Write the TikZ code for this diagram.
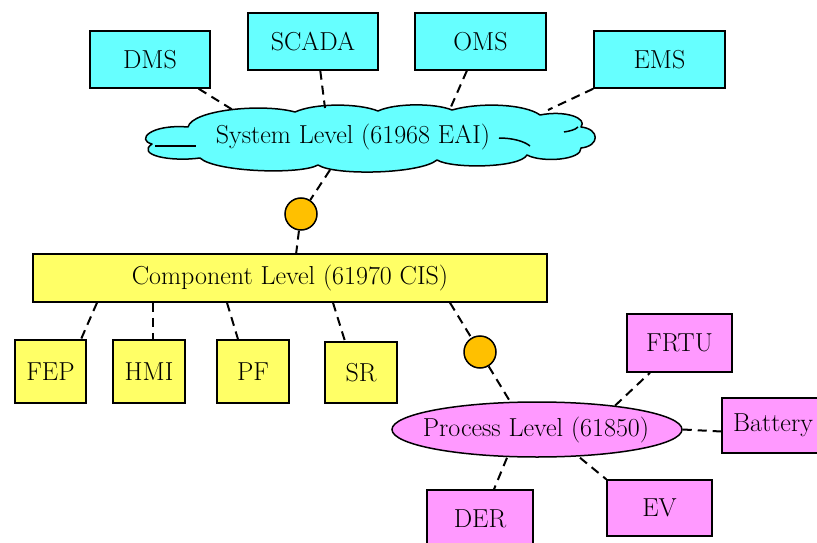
\documentclass[tikz,border=0pt]{standalone}
\usepackage{fontspec}
\usetikzlibrary{shapes.geometric}
\definecolor{cy}{HTML}{66FFFF}
\definecolor{ye}{HTML}{FFFF66}
\definecolor{mg}{HTML}{FF99FF}
\definecolor{og}{HTML}{FFC000}
\begin{document}
\begin{tikzpicture}[x=1pt,y=-1pt,
  txt/.style={font=\fontsize{26}{30}\selectfont},
  box/.style={draw=black, line width=1.5pt, rectangle, inner sep=0pt, txt},
  sysbox/.style={box, fill=cy},
  compbox/.style={box, fill=ye},
  procbox/.style={box, fill=mg},
  outline/.style={draw=black, line width=1.5pt, line join=round},
  conn/.style={line width=2pt, dash pattern=on 9pt off 6pt},
  dot/.style={circle, draw=black, fill=og, line width=1.5pt, minimum size=32pt, inner sep=0pt}]
\useasboundingbox (0,0) rectangle (817,543);
% system level
\node[sysbox, minimum width=120pt, minimum height=57pt] (dms) at (150,59.5) {DMS};
\node[sysbox, minimum width=130pt, minimum height=57pt] (scada) at (313,41.5) {SCADA};
\node[sysbox, minimum width=131pt, minimum height=57pt] (oms) at (480.5,41.5) {OMS};
\node[sysbox, minimum width=131pt, minimum height=57pt] (ems) at (659.5,59.5) {EMS};
% cloud
\path[outline, fill=cy] (152,144)
  .. controls (136,140) and (150,124) .. (188,127)
  .. controls (192,110) and (262,103) .. (295,112)
  .. controls (315,103) and (358,103) .. (378,111)
  .. controls (395,103) and (435,103) .. (452,110)
  .. controls (480,102) and (525,104) .. (540,115)
  .. controls (565,110) and (588,118) .. (581,127)
  .. controls (600,129) and (600,146) .. (581,148)
  .. controls (582,160) and (542,163) .. (527,155)
  .. controls (520,168) and (452,169) .. (437,160)
  .. controls (420,174) and (335,176) .. (318,165)
  .. controls (300,175) and (215,172) .. (200,158)
  .. controls (170,162) and (136,155) .. (152,144) -- cycle;
\draw[outline] (155,146) -- (196,146);
\draw[outline] (564,132) .. controls (570,131) and (575,130) .. (578,127);
\draw[outline] (499,138) .. controls (512,138) and (524,141) .. (530,146);
\node[ellipse, minimum width=448pt, minimum height=64pt, inner sep=0pt] (sys) at (369,139) {};
\node[txt] (systxt) at (353,137) {System Level (61968 EAI)};
\node[dot] (c1) at (301,214) {};
% component level
\node[compbox, minimum width=514pt, minimum height=48pt] (comp) at (290,278) {Component Level (61970 CIS)};
\node[compbox, minimum width=71pt, minimum height=63pt] (fep) at (50.5,371.5) {FEP};
\node[compbox, minimum width=72pt, minimum height=63pt] (hmi) at (149,371.5) {HMI};
\node[compbox, minimum width=72pt, minimum height=63pt] (pf) at (253,371.5) {PF};
\node[compbox, minimum width=72pt, minimum height=61pt] (sr) at (361,372.5) {SR};
\node[dot] (c2) at (480,352) {};
% process level
\node[ellipse, draw=black, fill=mg, line width=1.5pt, minimum width=290pt, minimum height=55pt, inner sep=0pt] (proc) at (537,429.5) {};
\node[txt] (proctxt) at (536,430) {Process Level (61850)};
\node[procbox, minimum width=105pt, minimum height=58pt] (frtu) at (679.5,343) {FRTU};
\node[procbox, minimum width=102pt, minimum height=55pt] (bat) at (773,425.5) {Battery};
\node[procbox, minimum width=106pt, minimum height=57pt] (der) at (480,518.5) {DER};
\node[procbox, minimum width=105pt, minimum height=56pt] (ev) at (659.5,508) {EV};
% connectors
\draw[conn] (dms.-31) -- ([shift={(-136,-29)}]sys.center);
\draw[conn] (scada.-76) -- ([shift={(-44,-31)}]sys.center);
\draw[conn] (oms.-115) -- ([shift={(81,-30)}]sys.center);
\draw[conn] (ems.south west) -- ([shift={(179,-29)}]sys.center);
\draw[conn] ([shift={(-39,31)}]sys.center) -- (c1);
\draw[conn] (c1) -- (comp.76);
\draw[conn] ([xshift=-193pt]comp.south) -- ([xshift=30.5pt]fep.north);
\draw[conn] ([xshift=-137pt]comp.south) -- ([xshift=4pt]hmi.north);
\draw[conn] ([xshift=-63pt]comp.south) -- ([xshift=-15pt]pf.north);
\draw[conn] ([xshift=43pt]comp.south) -- ([xshift=-16pt]sr.north);
\draw[conn] ([xshift=160pt]comp.south) -- (c2);
\draw[conn] (c2) -- (proc.134.5);
\draw[conn] (proc.17.4) -- ([xshift=-29.5pt]frtu.south);
\draw[conn] (proc.east) -- ([yshift=-6pt]bat.west);
\draw[conn] ([xshift=-30pt]proc.south) -- ([xshift=14pt]der.north);
\draw[conn] ([xshift=43pt]proc.south) -- (ev.north west);
\end{tikzpicture}
\end{document}
